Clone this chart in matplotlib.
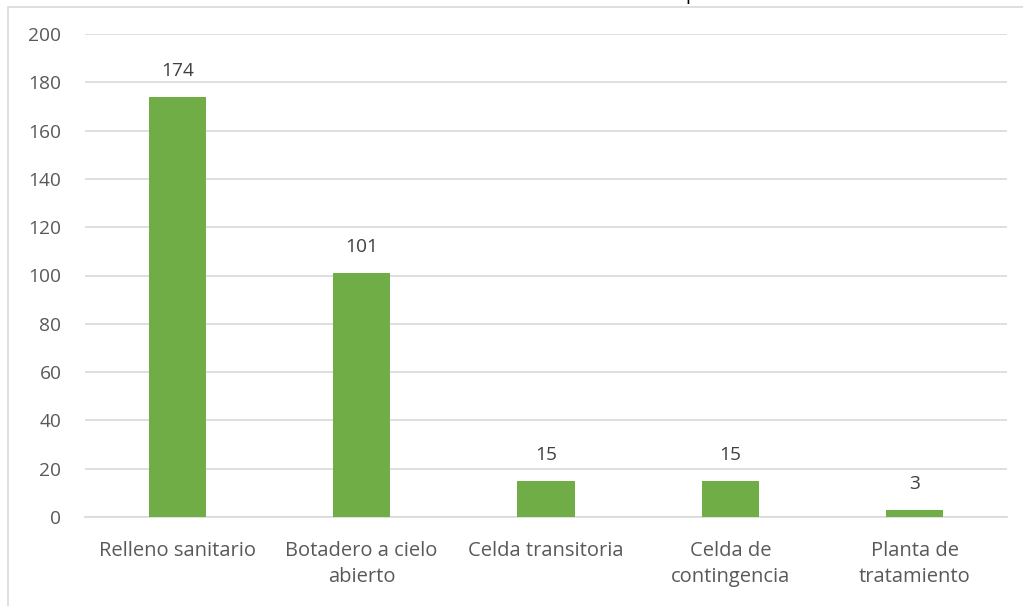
import matplotlib
matplotlib.use("Agg")
import matplotlib.pyplot as plt
from matplotlib.patches import Rectangle

categories = ["Relleno sanitario", "Botadero a cielo\nabierto", "Celda transitoria",
              "Celda de\ncontingencia", "Planta de\ntratamiento"]
values = [174, 101, 15, 15, 3]
yticks = [0, 20, 40, 60, 80, 100, 120, 140, 160, 180, 200]

W, H = 1023, 606
plt.rcParams['font.family'] = ['Open Sans', 'DejaVu Sans']
fig = plt.figure(figsize=(W / 100, H / 100), dpi=100)

# outer chart border (top and left visible)
fig.patches.append(Rectangle((8 / W, -0.1), 1.2, 1 - 7 / H + 0.1, transform=fig.transFigure,
                             fill=False, edgecolor="#D9D9D9", linewidth=1.2))
# cut-off title descender
fig.text(691 / W, 1.0, "p", ha="center", va="baseline", fontsize=14, color="#000000")

ax = fig.add_axes([85 / W, 1 - 517 / H, (1007 - 85) / W, (517 - 34) / H])
x = range(len(categories))
bars = ax.bar(x, values, width=0.31, color="#70AD47", zorder=3)
ax.set_xlim(-0.5, len(categories) - 0.5)
ax.set_ylim(0, 200)
ax.set_yticks(yticks)
ax.set_xticks(list(x))
ax.set_xticklabels(categories, fontsize=14.5, color="#595959", linespacing=1.45)
ax.tick_params(axis="y", labelsize=13.8, labelcolor="#595959", length=0, pad=17)
ax.tick_params(axis="x", length=0, pad=17)
ax.grid(axis="y", color="#D9D9D9", linewidth=1.2, zorder=0)
for s in ["top", "right", "left"]:
    ax.spines[s].set_visible(False)
ax.spines["bottom"].set_color("#D9D9D9")
ax.spines["bottom"].set_linewidth(1.2)
for b, v in zip(bars, values):
    ax.annotate(str(v), (b.get_x() + b.get_width() / 2, v), xytext=(0, 18.7),
                textcoords="offset points", ha="center", va="center",
                fontsize=13.8, color="#404040")

fig.savefig("out.png", dpi=100)
